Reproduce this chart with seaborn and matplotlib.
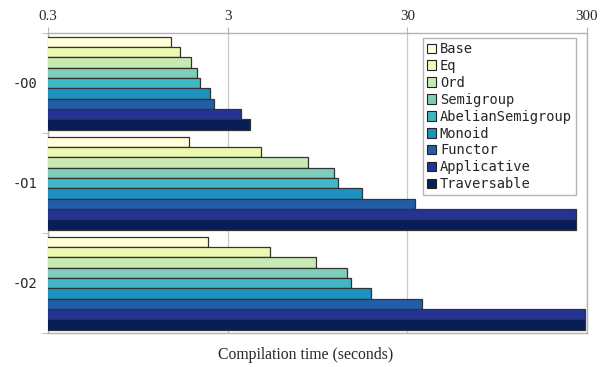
import pandas as pd
import seaborn as sns
import matplotlib.pyplot as plt
from matplotlib.ticker import FixedLocator, FixedFormatter, NullFormatter

# compile times in seconds
levels = ["-O0", "-O1", "-O2"]
classes = ["Base", "Eq", "Ord", "Semigroup", "AbelianSemigroup",
           "Monoid", "Functor", "Applicative", "Traversable"]
times_o0 = [1.45, 1.62, 1.88, 2.02, 2.10, 2.38, 2.51, 3.55, 3.98]
times_o1 = [1.82, 4.59, 8.38, 11.7, 12.3, 16.8, 33.1, 262, 262]
times_o2 = [2.34, 5.17, 9.36, 13.8, 14.6, 18.8, 36.3, 293, 293]
x_ticks = [0.3, 3, 30, 300]
x_tick_labels = ["0.3", "3", "30", "300"]
colors = ["#ffffd9", "#edf8b1", "#c7e9b4", "#7fcdbb", "#41b6c4",
          "#1d91c0", "#225ea8", "#253494", "#081d58"]

rows = []
for lvl, vals in zip(levels, [times_o0, times_o1, times_o2]):
    for cls, v in zip(classes, vals):
        rows.append({"level": lvl, "class": cls, "time": v})
df = pd.DataFrame(rows)

sns.set_style("white")
plt.rcParams["font.family"] = ["Liberation Serif", "DejaVu Serif"]
grey = "#b4b4b4"

fig = plt.figure(figsize=(6.08, 3.67), dpi=100)
ax = fig.add_axes([48 / 608, 34 / 367, 539 / 608, 300 / 367])
ax.set_xscale("log")

sns.barplot(data=df, y="level", x="time", hue="class", order=levels,
            hue_order=classes, palette=colors, orient="h", width=0.93,
            edgecolor="#333333", linewidth=0.9, saturation=1, ax=ax, zorder=3)

ax.set_xlim(0.3, 300)
ax.set_ylim(2.5, -0.5)

# x axis on top
ax.xaxis.tick_top()
ax.xaxis.set_major_locator(FixedLocator(x_ticks))
ax.xaxis.set_major_formatter(FixedFormatter(x_tick_labels))
ax.xaxis.set_minor_formatter(NullFormatter())
ax.tick_params(axis="x", which="minor", length=0)
ax.tick_params(axis="x", which="major", length=4, color=grey, pad=3,
               top=True, labelsize=10.8)
ax.grid(axis="x", which="major", color="#c8c8c8", linewidth=0.9, zorder=0)
ax.set_axisbelow(True)

# y axis: labels at centres, ticks between groups
ax.set_yticks([0, 1, 2])
ax.set_yticklabels(levels, family="DejaVu Sans Mono", fontsize=9.8)
ax.yaxis.set_minor_locator(FixedLocator([-0.5, 0.5, 1.5, 2.5]))
ax.tick_params(axis="y", which="major", length=0, pad=8)
ax.tick_params(axis="y", which="minor", length=4, color=grey, left=True)
ax.set_ylabel("")

ax.set_xlabel("")
fig.text(306 / 608, 12 / 367, "Compilation time (seconds)",
         fontsize=11.3, ha="center", va="center")

for s in ax.spines.values():
    s.set_color(grey)
    s.set_linewidth(1.0)

leg = ax.legend(loc="upper right", bbox_to_anchor=((576 - 48) / 539, 1 - 5 / 300),
                bbox_transform=ax.transAxes, frameon=True, fancybox=False,
                edgecolor=grey, framealpha=1, handlelength=0.7, handleheight=0.7,
                handletextpad=0.25, labelspacing=0.21, borderpad=0.3,
                borderaxespad=0,
                prop={"family": "DejaVu Sans Mono", "size": 9.9})
leg.get_frame().set_linewidth(1.0)
for h in leg.legend_handles:
    h.set_edgecolor("#222222")
    h.set_linewidth(0.8)

fig.savefig("out.png", dpi=100)
